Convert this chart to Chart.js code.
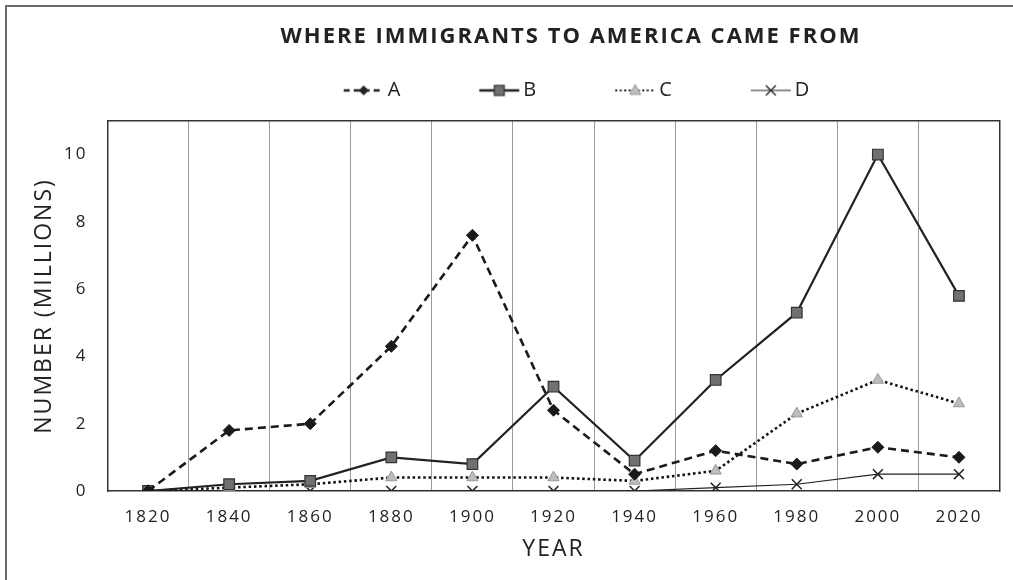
<!DOCTYPE html>
<html>
<head>
<meta charset="utf-8">
<script src="https://cdn.jsdelivr.net/npm/chart.js@4.4.1/dist/chart.umd.min.js"></script>
<style>
  html, body { margin: 0; padding: 0; background: #fff; overflow: hidden; width: 1013px; height: 580px; }
  #frame { position: absolute; left: 5px; top: 5px; width: 1100px; height: 600px;
           border-left: 2px solid #6a6a6a; border-top: 2px solid #6a6a6a; }
  #c { position: absolute; left: 0; top: 0; }
</style>
</head>
<body>
<div id="frame"></div>
<canvas id="c" width="1142" height="580"></canvas>
<script>
const years = ['1820', '1840', '1860', '1880', '1900', '1920', '1940', '1960', '1980', '2000', '2020'];
const seriesA = [0, 1.8, 2.0, 4.3, 7.6, 2.4, 0.5, 1.2, 0.8, 1.3, 1.0];
const seriesB = [0, 0.2, 0.3, 1.0, 0.8, 3.1, 0.9, 3.3, 5.3, 10.0, 5.8];
const seriesC = [0, 0.1, 0.2, 0.4, 0.4, 0.4, 0.3, 0.6, 2.3, 3.3, 2.6];
const seriesD = [0, 0, 0, 0, 0, 0, 0, 0.1, 0.2, 0.5, 0.5];
const seriesNames = ['A', 'B', 'C', 'D'];
const yTickValues = [0, 2, 4, 6, 8, 10];

const FONT = "'Open Sans', 'Liberation Sans', sans-serif";
const INK = '#222';

// legend sample images (line + marker)
function legendImage(kind) {
  const cv = document.createElement('canvas');
  cv.width = 100; cv.height = 20;
  const g = cv.getContext('2d');
  const x0 = 57, x1 = 97, cx = 77, cy = 10;
  g.strokeStyle = INK;
  g.beginPath();
  if (kind === 'A') { g.lineWidth = 2.5; g.setLineDash([6, 4]); }
  if (kind === 'B') { g.lineWidth = 2.5; }
  if (kind === 'C') { g.lineWidth = 2.2; g.setLineDash([2, 2.5]); }
  if (kind === 'D') { g.lineWidth = 1.2; }
  g.moveTo(x0, cy); g.lineTo(x1, cy); g.stroke();
  g.setLineDash([]);
  if (kind === 'A') {
    g.fillStyle = INK; g.beginPath();
    g.moveTo(cx, cy - 5); g.lineTo(cx + 5, cy); g.lineTo(cx, cy + 5); g.lineTo(cx - 5, cy); g.closePath(); g.fill();
  } else if (kind === 'B') {
    g.fillStyle = '#707070'; g.strokeStyle = '#333'; g.lineWidth = 1.2;
    g.fillRect(cx - 5, cy - 5, 10, 10); g.strokeRect(cx - 5, cy - 5, 10, 10);
  } else if (kind === 'C') {
    g.fillStyle = '#bdbdbd'; g.strokeStyle = '#999'; g.lineWidth = 1;
    g.beginPath(); g.moveTo(cx, cy - 6); g.lineTo(cx + 5.5, cy + 4); g.lineTo(cx - 5.5, cy + 4); g.closePath(); g.fill(); g.stroke();
  } else {
    g.strokeStyle = INK; g.lineWidth = 1.4; g.beginPath();
    g.moveTo(cx - 5, cy - 5); g.lineTo(cx + 5, cy + 5); g.moveTo(cx + 5, cy - 5); g.lineTo(cx - 5, cy + 5); g.stroke();
  }
  return cv;
}
const legendImgs = seriesNames.map(legendImage);

const datasets = [
  { label: seriesNames[0], data: seriesA, borderColor: '#1a1a1a', borderWidth: 2.6, borderDash: [8, 5],
    pointStyle: 'rectRot', pointRadius: 6, pointBackgroundColor: '#1a1a1a', pointBorderColor: '#1a1a1a', pointBorderWidth: 1 },
  { label: seriesNames[1], data: seriesB, borderColor: '#222', borderWidth: 2.2,
    pointStyle: 'rect', pointRadius: 7.5, pointBackgroundColor: '#707070', pointBorderColor: '#333', pointBorderWidth: 1.2 },
  { label: seriesNames[2], data: seriesC, borderColor: '#111', borderWidth: 2.6, borderDash: [2.5, 2.8],
    pointStyle: 'triangle', pointRadius: 6.5, pointBackgroundColor: '#bdbdbd', pointBorderColor: '#999', pointBorderWidth: 1 },
  { label: seriesNames[3], data: seriesD, borderColor: '#222', borderWidth: 1.2,
    pointStyle: 'crossRot', pointRadius: 7, pointBackgroundColor: '#222', pointBorderColor: '#222', pointBorderWidth: 1.5 }
];
datasets.forEach(d => { d.fill = false; d.tension = 0; d.pointHoverRadius = d.pointRadius; });

const letterSpacingPlugin = {
  id: 'letterSpacing',
  beforeUpdate(chart) { chart.ctx.letterSpacing = '2px'; },
  beforeDraw(chart) { chart.ctx.letterSpacing = '2px'; }
};

new Chart(document.getElementById('c'), {
  type: 'line',
  data: { labels: years, datasets },
  plugins: [letterSpacingPlugin],
  options: {
    responsive: false,
    animation: false,
    events: [],
    layout: { padding: 0 },
    plugins: {
      title: {
        display: true,
        text: 'WHERE IMMIGRANTS TO AMERICA CAME FROM',
        color: INK,
        font: { family: FONT, size: 22, weight: 'bold' },
        padding: { top: 24, bottom: 1 }
      },
      legend: {
        display: true,
        position: 'top',
        fullSize: false,
        labels: {
          color: INK,
          font: { family: FONT, size: 20 },
          usePointStyle: true,
          pointStyleWidth: 82,
          padding: 29,
          generateLabels: (chart) => {
            const items = Chart.defaults.plugins.legend.labels.generateLabels(chart);
            items.forEach((it, i) => { it.pointStyle = legendImgs[i]; });
            return items;
          }
        }
      },
      tooltip: { enabled: false }
    },
    scales: {
      x: {
        type: 'category',
        position: 'bottom',
        offset: true,
        grid: { display: true, offset: true, color: '#9a9a9a', lineWidth: 1, drawTicks: false },
        border: { display: true, color: '#333', width: 1.5 },
        ticks: { color: INK, font: { family: FONT, size: 17 }, padding: 16, maxRotation: 0, autoSkip: false },
        title: { display: true, text: 'YEAR', color: INK, font: { family: FONT, size: 23 }, padding: { top: 0, bottom: 17 } },
        afterFit: (s) => { s.height = 89; }
      },
      x2: {
        type: 'category',
        position: 'top',
        grid: { display: false, drawTicks: false },
        ticks: { display: false },
        border: { display: true, color: '#333', width: 1.5 },
        afterFit: (s) => { s.height = 10.5; }
      },
      y: {
        type: 'linear',
        position: 'left',
        min: 0,
        max: 11,
        grid: { display: false, drawTicks: false },
        border: { display: true, color: '#333', width: 1.5 },
        ticks: { color: INK, font: { family: FONT, size: 17 }, padding: 20, stepSize: 2 },
        afterBuildTicks: (s) => { s.ticks = yTickValues.map(v => ({ value: v })); },
        title: { display: true, text: 'NUMBER (MILLIONS)', color: INK, font: { family: FONT, size: 23 }, padding: { top: 31, bottom: 0 } },
        afterFit: (s) => { s.width = 107.5; }
      },
      y2: {
        type: 'linear',
        position: 'right',
        grid: { display: false, drawTicks: false },
        ticks: { display: false },
        border: { display: true, color: '#333', width: 1.5 },
        afterFit: (s) => { s.width = 142.5; }
      }
    }
  }
});
</script>
</body>
</html>
